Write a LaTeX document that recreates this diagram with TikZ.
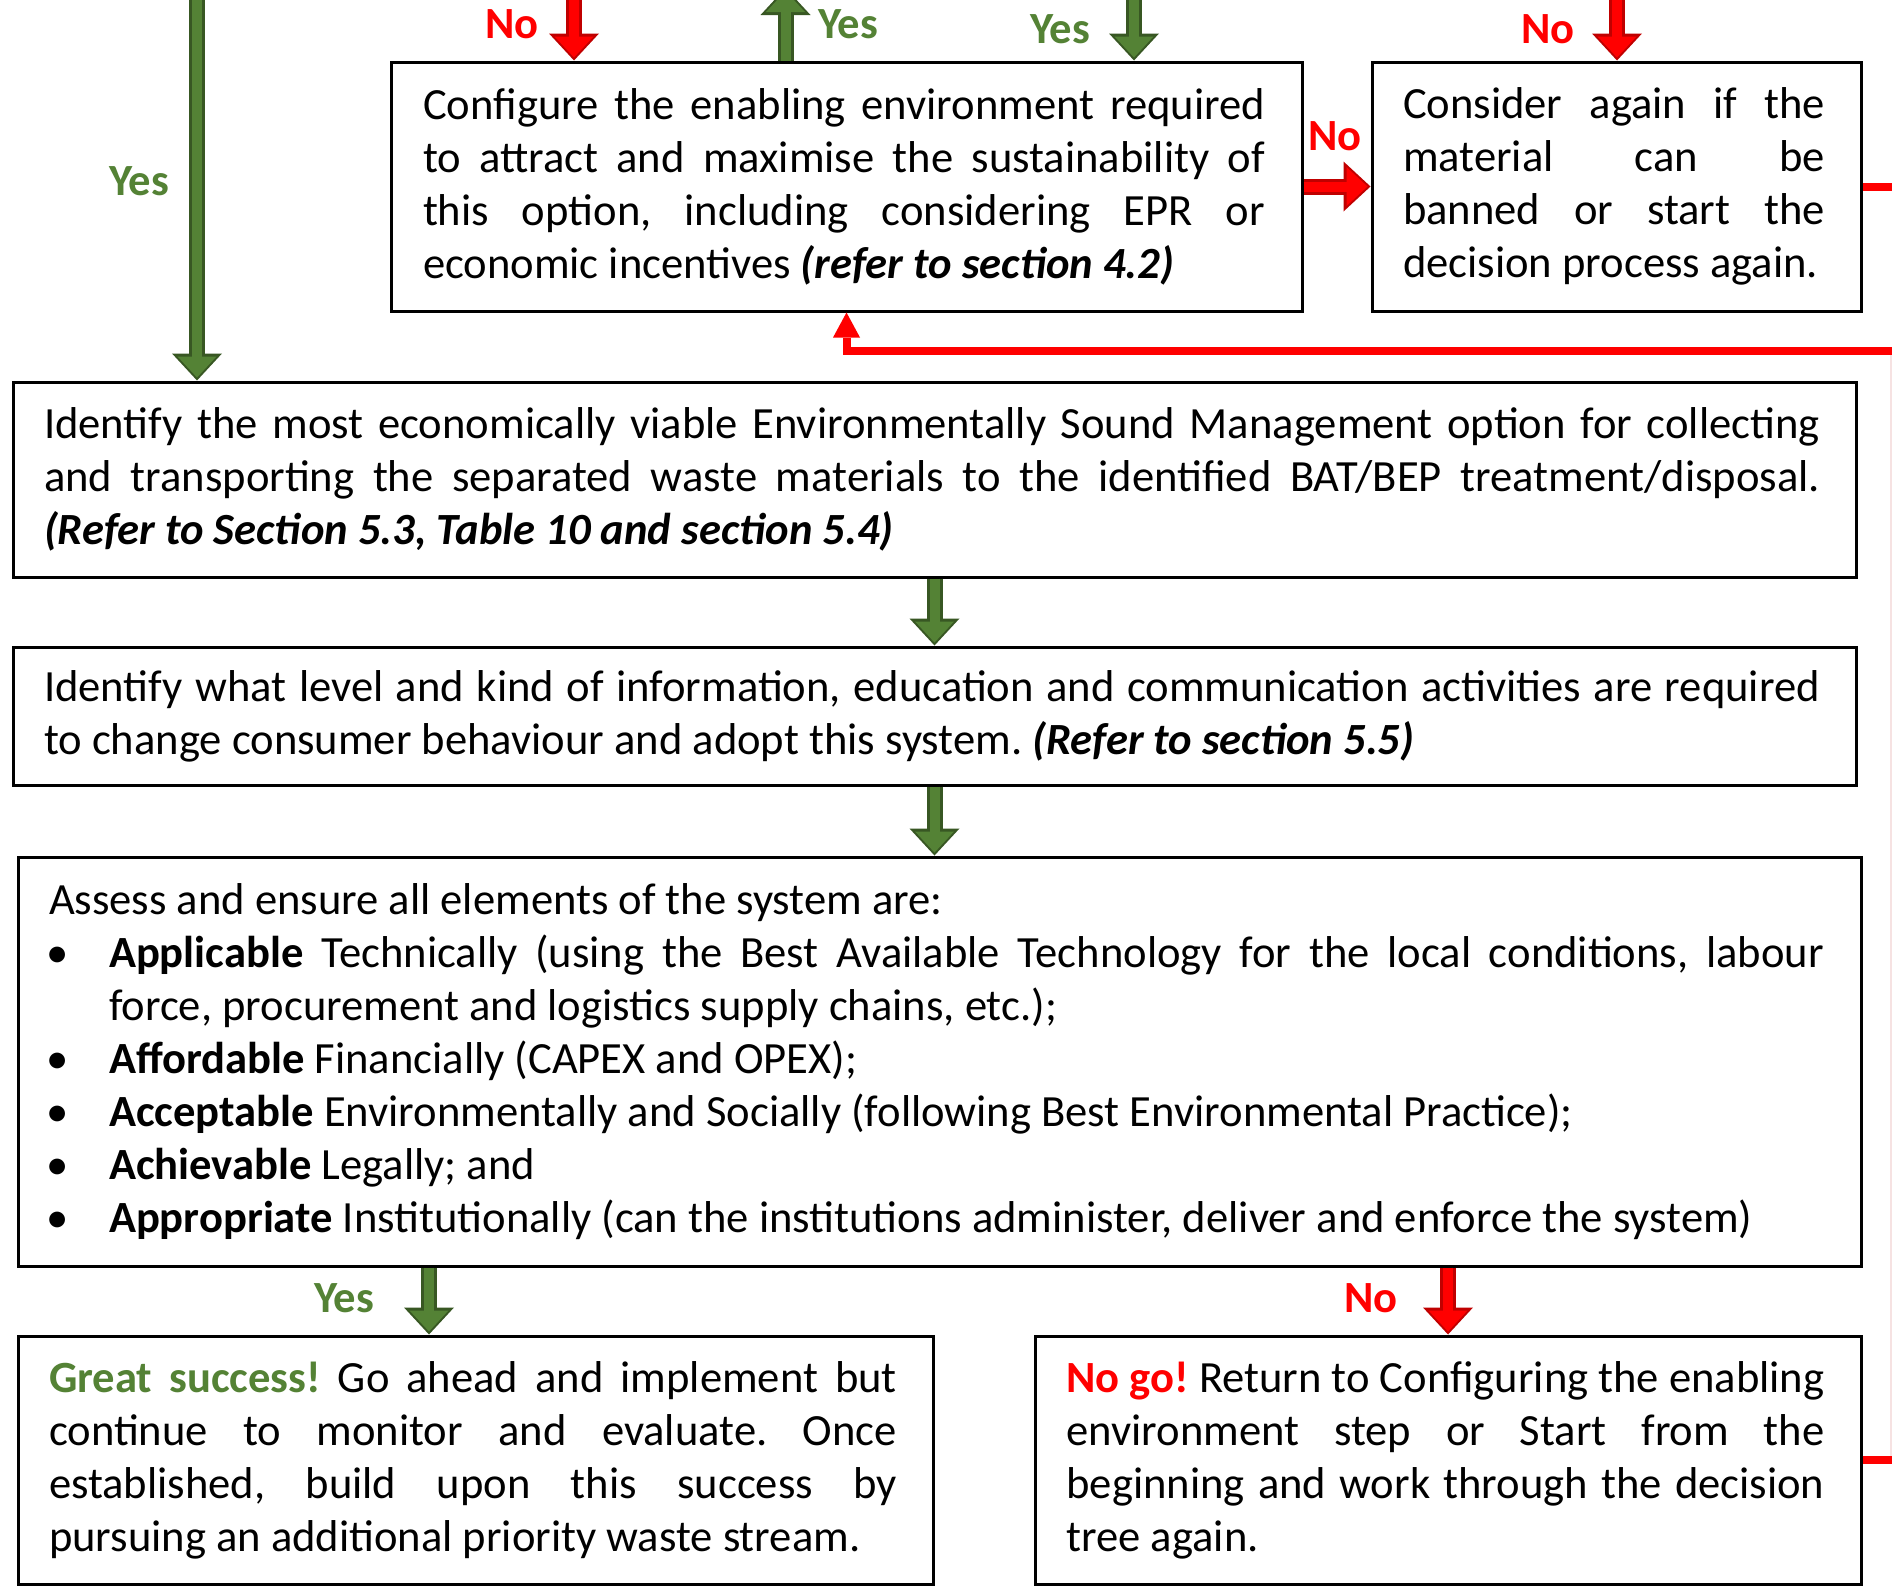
\documentclass[tikz,border=0pt]{standalone}
\usepackage{fontspec}
\setmainfont{Carlito}
\usetikzlibrary{arrows.meta}
\definecolor{gfill}{RGB}{84,130,53}
\definecolor{gdark}{RGB}{56,87,35}
\definecolor{rfill}{RGB}{255,0,0}
\definecolor{rdark}{RGB}{192,0,0}
\definecolor{gtext}{RGB}{84,130,53}
\definecolor{faintred}{RGB}{246,226,226}
\newcommand{\jline}[2]{\makebox[#1][s]{#2}}
\newcommand{\bul}{\makebox[60pt][l]{\hspace{-3pt}\textbullet}}
\newcommand{\refit}[1]{\textbf{\textit{#1}}}
\frenchspacing
\begin{document}
\begin{tikzpicture}[x=1pt,y=1pt,
  box/.style={draw=black, line width=3pt, rectangle, inner sep=0pt, align=left,
    font=\fontsize{44.6}{53}\selectfont,
    execute at begin node={\spaceskip=0pt\xspaceskip=0pt\relax}},
  lbl/.style={font=\fontsize{44.6}{53}\selectfont\bfseries, inner sep=0pt},
  ylbl/.style={lbl, text=gtext},
  nlbl/.style={lbl, text=rfill},
  garrow/.style={draw=gdark, line width=16pt,
    -{Triangle[width=50pt,length=27pt,line width=0pt]},
    postaction={draw=gfill, line width=10pt,
      -{Triangle[width=39pt,length=21pt,line width=0pt]}, shorten >=3pt}},
  rarrow/.style={draw=rdark, line width=16pt,
    -{Triangle[width=50pt,length=27pt,line width=0pt]},
    postaction={draw=rfill, line width=10pt,
      -{Triangle[width=39pt,length=21pt,line width=0pt]}, shorten >=3pt}},
  rline/.style={draw=rfill, line width=8pt},
  rtip/.style={-{Triangle[width=27pt,length=25pt,line width=0pt]}},
  faint/.style={draw=faintred, line width=2pt}
]
\fill[white] (0,0) rectangle (1892,-1588);
\useasboundingbox (0,0) rectangle (1892,-1588);

% boxes
\node[box, minimum width=911pt, minimum height=249pt, text width=847pt] (conf) at (846.5,-186.5) {%
\jline{842pt}{Configure the enabling environment required}\\
\jline{842pt}{to attract and maximise the sustainability of}\\
\jline{842pt}{this option, including considering EPR or}\\
economic incentives \refit{(refer to section 4.2)}};

\node[box, minimum width=489pt, minimum height=249pt, text width=427pt] (cons) at (1616.5,-186.5) {%
\jline{422pt}{Consider again if the}\\
\jline{422pt}{material can be}\\
\jline{422pt}{banned or start the}\\
decision process again.};

\node[box, minimum width=1843pt, minimum height=195pt, text width=1781pt] (idone) at (934.5,-479.5) {%
\jline{1776pt}{Identify the most economically viable Environmentally Sound Management option for collecting}\\
\jline{1776pt}{and transporting the separated waste materials to the identified BAT/BEP treatment/disposal.}\\
\refit{(Refer to Section 5.3, Table 10 and section 5.4)}};

\node[box, minimum width=1843pt, minimum height=138pt, text width=1781pt] (idtwo) at (934.5,-716) {%
\jline{1776pt}{Identify what level and kind of information, education and communication activities are required}\\
to change consumer behaviour and adopt this system. \refit{(Refer to section 5.5)}};

\node[box, minimum width=1843pt, minimum height=409pt, text width=1781pt] (assess) at (939.5,-1061.5) {%
Assess and ensure all elements of the system are:\\
\jline{1775pt}{\bul\textbf{Applicable} Technically (using the Best Available Technology for the local conditions, labour}\\
\hspace*{60pt}force, procurement and logistics supply chains, etc.);\\
\bul\textbf{Affordable} Financially (CAPEX and OPEX);\\
\bul\textbf{Acceptable} Environmentally and Socially (following Best Environmental Practice);\\
\bul\textbf{Achievable} Legally; and\\
\bul\textbf{Appropriate} Institutionally (can the institutions administer, deliver and enforce the system)};

\node[box, minimum width=915pt, minimum height=248pt, text width=853pt] (success) at (475.5,-1460) {%
\jline{848pt}{\textcolor{gtext}{\textbf{Great success!}} Go ahead and implement but}\\
\jline{848pt}{continue to monitor and evaluate. Once}\\
\jline{848pt}{established, build upon this success by}\\
pursuing an additional priority waste stream.};

\node[box, minimum width=826pt, minimum height=248pt, text width=763pt] (nogo) at (1448,-1460) {%
\jline{758pt}{\textcolor{rfill}{\textbf{No go!}} Return to Configuring the enabling}\\
\jline{758pt}{environment step or Start from the}\\
\jline{758pt}{beginning and work through the decision}\\
tree again.};

% free ends at the top edge
\coordinate (tA) at (197,5);
\coordinate (tB) at (574,5);
\coordinate (tC) at (785.5,12);
\coordinate (tD) at (1134,5);
\coordinate (tE) at (1617,5);
\coordinate (xYes) at (429,0);
\coordinate (rc) at (1897,-351);

% red loop (drawn first)
\draw[faint] (1891,-351) -- (1891,-1460);
\draw[rline] (cons.east) -| (rc);
\draw[rline, rtip] (nogo.east) -| (rc) -- (rc -| conf.south) -- (conf.south);

% block arrows
\draw[garrow] (tA) -- (tA |- idone.north);
\draw[rarrow] (tB) -- (tB |- conf.north);
\draw[garrow] (tC |- conf.north) -- (tC);
\draw[garrow] (tD) -- (tD |- conf.north);
\draw[rarrow] (tE) -- (tE |- cons.north);
\draw[rarrow] (conf.east) -- (cons.west);
\draw[garrow] (idone.south) -- (idtwo.north);
\draw[garrow] (idtwo.south) -- (idtwo.south |- assess.north);
\draw[garrow] (xYes |- assess.south) -- (xYes |- success.north);
\draw[rarrow] (assess.south -| nogo.north) -- (nogo.north);

% labels
\node[ylbl] (yesA) at (139,-181) {Yes};
\node[nlbl] (noA) at (512,-24) {No};
\node[ylbl] (yesB) at (848,-24) {Yes};
\node[ylbl] (yesC) at (1060,-29) {Yes};
\node[nlbl] (noB) at (1548,-29) {No};
\node[nlbl] (noC) at (1335,-136) {No};
\node[ylbl] (yesD) at (344,-1298) {Yes};
\node[nlbl] (noD) at (1371,-1298) {No};
\end{tikzpicture}
\end{document}
